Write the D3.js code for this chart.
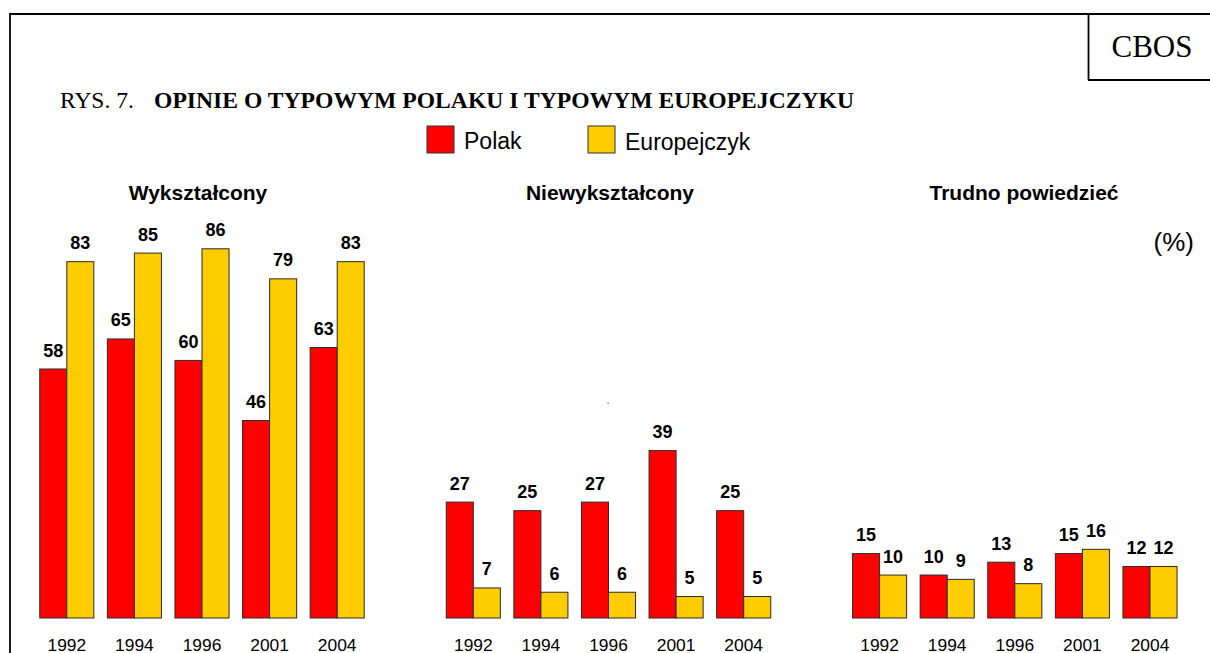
<!DOCTYPE html>
<html>
<head>
<meta charset="utf-8">
<script src="https://cdn.jsdelivr.net/npm/d3@7"></script>
<style>
  body { margin: 0; background: #fff; }
  svg { display: block; }
</style>
</head>
<body>
<div id="chart"></div>
<script>
// Chart data
const years = ["1992", "1994", "1996", "2001", "2004"];
const series = ["Polak", "Europejczyk"];
const panelTitles = ["Wykształcony", "Niewykształcony", "Trudno powiedzieć"];
const wyksztalconyPolak = [58, 65, 60, 46, 63];
const wyksztalconyEuropejczyk = [83, 85, 86, 79, 83];
const niewyksztalconyPolak = [27, 25, 27, 39, 25];
const niewyksztalconyEuropejczyk = [7, 6, 6, 5, 5];
const trudnoPolak = [15, 10, 13, 15, 12];
const trudnoEuropejczyk = [10, 9, 8, 16, 12];

const panelValues = [
    [wyksztalconyPolak, wyksztalconyEuropejczyk],
    [niewyksztalconyPolak, niewyksztalconyEuropejczyk],
    [trudnoPolak, trudnoEuropejczyk]
];

const width = 1210;
const height = 653;
const colors = { "Polak": "#ff0000", "Europejczyk": "#ffcc00" };
const serif = "'Liberation Serif', 'Times New Roman', serif";
const sans = "'Liberation Sans', Arial, sans-serif";

const svg = d3.select("#chart")
    .append("svg")
    .attr("width", width)
    .attr("height", height);

// Frame lines and CBOS box
svg.append("line").attr("x1", 10).attr("y1", 14).attr("x2", width).attr("y2", 14)
    .attr("stroke", "#000").attr("stroke-width", 1.8);
svg.append("line").attr("x1", 10).attr("y1", 13).attr("x2", 10).attr("y2", height)
    .attr("stroke", "#000").attr("stroke-width", 1.8);
svg.append("line").attr("x1", 1088.5).attr("y1", 14).attr("x2", 1088.5).attr("y2", 80)
    .attr("stroke", "#000").attr("stroke-width", 1.8);
svg.append("line").attr("x1", 1088).attr("y1", 80).attr("x2", width).attr("y2", 80)
    .attr("stroke", "#000").attr("stroke-width", 1.8);

svg.append("text")
    .attr("x", 1152).attr("y", 57)
    .attr("text-anchor", "middle")
    .style("font-family", serif)
    .style("font-size", "31px")
    .text("CBOS");

// Title
const title = svg.append("text")
    .attr("x", 60).attr("y", 108)
    .style("font-family", serif)
    .style("font-size", "23.5px");
title.append("tspan").text("RYS. 7.");
title.append("tspan").attr("x", 154).style("font-weight", "bold")
    .attr("textLength", 700).attr("lengthAdjust", "spacingAndGlyphs")
    .text("OPINIE O TYPOWYM POLAKU I TYPOWYM EUROPEJCZYKU");

// Legend
const legendX = [427, 588];
series.forEach((s, i) => {
    svg.append("rect")
        .attr("x", legendX[i]).attr("y", 126)
        .attr("width", 27).attr("height", 27)
        .attr("fill", colors[s])
        .attr("stroke", "#333").attr("stroke-width", 1);
    svg.append("text")
        .attr("x", legendX[i] + 37).attr("y", 148.5 + i)
        .style("font-family", sans)
        .style("font-size", "23px")
        .text(s);
});

// "(%)" label
svg.append("text")
    .attr("x", 1194).attr("y", 251)
    .attr("text-anchor", "end")
    .style("font-family", sans)
    .style("font-size", "26px")
    .text("(%)");

// stray dot in the source
svg.append("rect").attr("x", 607.5).attr("y", 402.5).attr("width", 1.2).attr("height", 1.2).attr("fill", "#555");

// Shared vertical scale
const y = d3.scaleLinear().domain([0, 100]).range([618, 188.7]);

const panelStart = [33, 439.5, 845.8];
const panelWidth = 338;
const titleX = [198, 610, 1024];

panelValues.forEach((vals, p) => {
    const g = svg.append("g");

    const x0 = d3.scaleBand()
        .domain(years)
        .range([panelStart[p], panelStart[p] + panelWidth])
        .paddingInner(0.2)
        .paddingOuter(0.1);

    const x1 = d3.scaleBand()
        .domain(series)
        .range([0, x0.bandwidth()]);

    // panel title
    g.append("text")
        .attr("x", titleX[p]).attr("y", 200)
        .attr("text-anchor", "middle")
        .style("font-family", sans)
        .style("font-size", "21px")
        .style("font-weight", "bold")
        .text(panelTitles[p]);

    const rows = years.map((yr, i) => ({
        year: yr,
        items: series.map((s, k) => ({ key: s, value: vals[k][i] }))
    }));

    const groups = g.selectAll("g.year")
        .data(rows)
        .enter()
        .append("g")
        .attr("class", "year")
        .attr("transform", d => `translate(${x0(d.year)},0)`);

    groups.selectAll("rect")
        .data(d => d.items)
        .enter()
        .append("rect")
        .attr("x", d => x1(d.key))
        .attr("y", d => y(d.value))
        .attr("width", x1.bandwidth())
        .attr("height", d => y(0) - y(d.value))
        .attr("fill", d => colors[d.key])
        .attr("stroke", "#2a2a2a")
        .attr("stroke-width", 1);

    groups.selectAll("text.val")
        .data(d => d.items)
        .enter()
        .append("text")
        .attr("class", "val")
        .attr("x", d => x1(d.key) + x1.bandwidth() / 2)
        .attr("y", d => y(d.value) - 12.5)
        .attr("text-anchor", "middle")
        .style("font-family", sans)
        .style("font-size", "18px")
        .style("font-weight", "bold")
        .text(d => d.value);

    // year labels via bottom axis
    const axis = g.append("g")
        .attr("transform", "translate(0,636)")
        .call(d3.axisBottom(x0).tickSize(0).tickPadding(0));
    axis.select(".domain").remove();
    axis.selectAll("text")
        .attr("dy", 0)
        .attr("y", 14.5)
        .style("font-family", sans)
        .style("font-size", "17.4px")
        .attr("fill", "#000");
});
</script>
</body>
</html>
